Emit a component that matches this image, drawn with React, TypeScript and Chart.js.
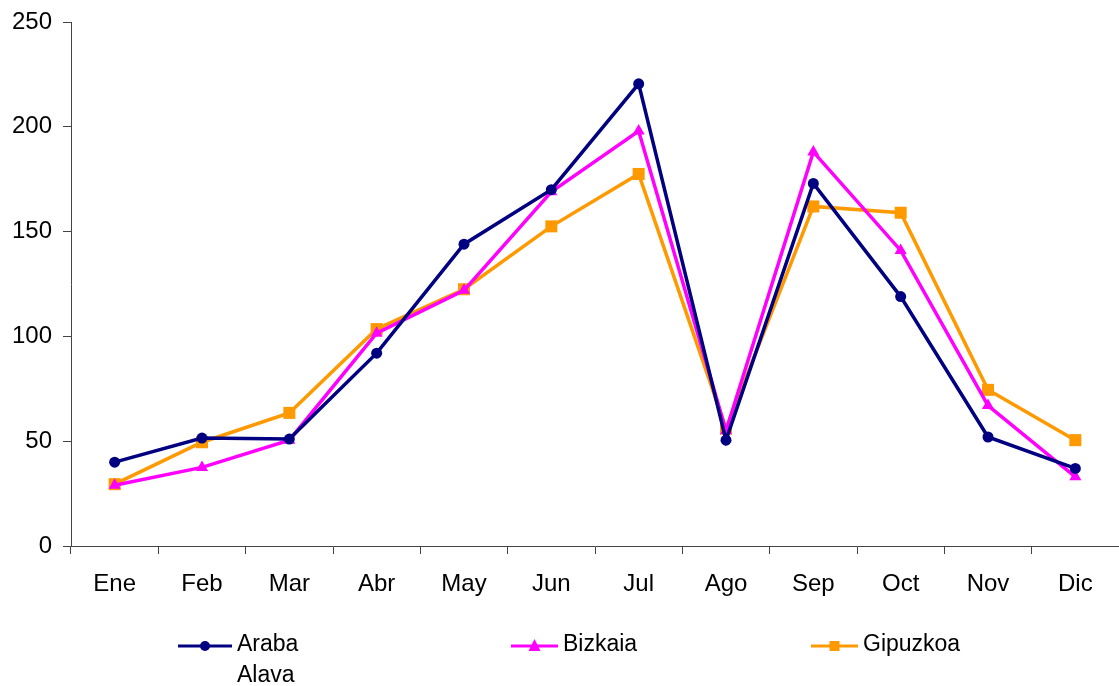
import React, { useEffect, useRef } from "react";
import { Chart, registerables } from "chart.js";

Chart.register(...registerables);

const months = ["Ene", "Feb", "Mar", "Abr", "May", "Jun", "Jul", "Ago", "Sep", "Oct", "Nov", "Dic"];
const araba = [40, 51.5, 51, 92, 144, 170, 220.5, 50.5, 173, 119, 52, 37];
const bizkaia = [29, 37.5, 50.5, 101.5, 122, 169, 198, 55, 188, 141, 67, 33];
const gipuzkoa = [29.5, 49.5, 63.5, 103.5, 122.5, 152.5, 177.5, 56, 162, 159, 74.5, 50.5];

const FONT = "'Liberation Sans', Arial, sans-serif";

const legendItems = [
  { lines: ["Araba", "Alava"], color: "#000080", style: "circle", x1: 178, x2: 232 },
  { lines: ["Bizkaia"], color: "#FF00FF", style: "triangle", x1: 511, x2: 558 },
  { lines: ["Gipuzkoa"], color: "#FF9900", style: "rect", x1: 811, x2: 858 },
];

const legendPlugin = {
  id: "customLegend",
  afterDraw(chart: any) {
    const ctx = chart.ctx;
    const y = 646;
    ctx.save();
    legendItems.forEach((it) => {
      ctx.strokeStyle = it.color;
      ctx.lineWidth = 3;
      ctx.beginPath();
      ctx.moveTo(it.x1, y);
      ctx.lineTo(it.x2, y);
      ctx.stroke();
      const cx = (it.x1 + it.x2) / 2;
      ctx.fillStyle = it.color;
      ctx.beginPath();
      if (it.style === "circle") {
        ctx.arc(cx, y, 5, 0, Math.PI * 2);
      } else if (it.style === "triangle") {
        ctx.moveTo(cx, y - 7);
        ctx.lineTo(cx + 6, y + 5);
        ctx.lineTo(cx - 6, y + 5);
        ctx.closePath();
      } else {
        ctx.rect(cx - 5, y - 5, 10, 10);
      }
      ctx.fill();
      ctx.fillStyle = "#000";
      ctx.font = `23px ${FONT}`;
      ctx.textBaseline = "middle";
      ctx.textAlign = "left";
      it.lines.forEach((t, i) => ctx.fillText(t, it.x2 + 5, y - 1 + i * 31));
    });
    ctx.restore();
  },
};

export default function App() {
  const ref = useRef<HTMLCanvasElement>(null);
  useEffect(() => {
    document.body.style.margin = "0";
    const chart = new Chart(ref.current!, {
      type: "line",
      data: {
        labels: months,
        datasets: [
          {
            label: "Araba Alava",
            data: araba,
            borderColor: "#000080",
            backgroundColor: "#000080",
            borderWidth: 3.5,
            pointStyle: "circle",
            pointRadius: 5.5,
            pointBorderWidth: 0,
            tension: 0,
            clip: false,
          },
          {
            label: "Bizkaia",
            data: bizkaia,
            borderColor: "#FF00FF",
            backgroundColor: "#FF00FF",
            borderWidth: 3.5,
            pointStyle: "triangle",
            pointRadius: 7,
            pointBorderWidth: 0,
            tension: 0,
            clip: false,
          },
          {
            label: "Gipuzkoa",
            data: gipuzkoa,
            borderColor: "#FF9900",
            backgroundColor: "#FF9900",
            borderWidth: 3.5,
            pointStyle: "rect",
            pointRadius: 8.5,
            pointBorderWidth: 0,
            tension: 0,
            clip: false,
          },
        ],
      },
      options: {
        animation: false,
        responsive: false,
        maintainAspectRatio: false,
        layout: { autoPadding: false, padding: { top: 22, right: 0, left: 0, bottom: 0 } },
        plugins: { legend: { display: false }, tooltip: { enabled: false } },
        scales: {
          x: {
            offset: true,
            grid: { offset: true, drawOnChartArea: false, drawTicks: true, tickLength: 8, color: "#444" },
            border: { color: "#444", width: 1 },
            ticks: { color: "#000", font: { family: FONT, size: 24 }, padding: 16, maxRotation: 0 },
            afterFit: (s: any) => { s.height = 140; s.paddingLeft = 0; s.paddingRight = 0; },
          },
          y: {
            min: 0,
            max: 250,
            grid: { drawOnChartArea: false, drawTicks: true, tickLength: 8, color: "#444" },
            border: { color: "#444", width: 1 },
            ticks: { stepSize: 50, color: "#000", font: { family: FONT, size: 24 }, padding: 11 },
            afterFit: (s: any) => { s.width = 71; s.paddingTop = 0; s.paddingBottom = 0; },
          },
        },
      },
      plugins: [legendPlugin],
    });
    return () => chart.destroy();
  }, []);
  return (
    <div style={{ position: "fixed", left: 0, top: 0, width: 1119, height: 686, background: "#fff" }}>
      <canvas ref={ref} width={1119} height={686} />
    </div>
  );
}
